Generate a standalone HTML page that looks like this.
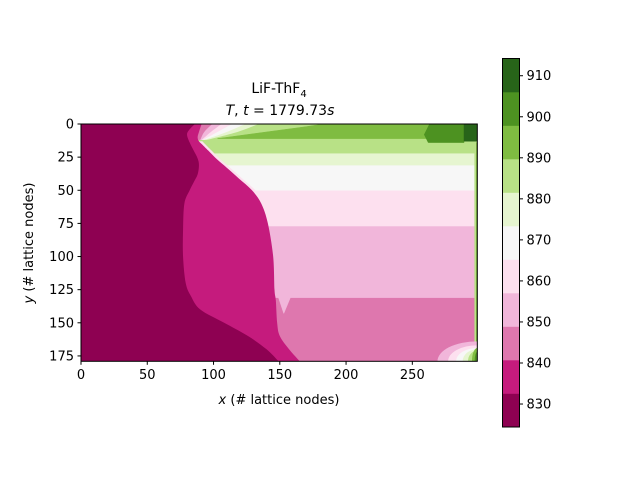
<!DOCTYPE html>
<html><head><meta charset="utf-8"><style>
html,body{margin:0;padding:0;background:#fff}
svg{display:block;font-family:"DejaVu Sans","Liberation Sans",sans-serif}
</style></head><body>
<svg id="chart" width="640" height="480" viewBox="0 0 640 480">
<defs><clipPath id="pc"><rect x="81" y="124" width="396.3" height="237.3"/></clipPath></defs>
<g id="plot" clip-path="url(#pc)"></g>
<rect x="81" y="124" width="396.3" height="237.3" fill="none" stroke="#000" stroke-width="1"/>
<g id="xaxis"></g>
<g id="yaxis"></g>
<text x="279" y="93" text-anchor="middle" font-size="14">LiF-ThF<tspan font-size="10" dy="4">4</tspan></text>
<text x="280" y="115" text-anchor="middle" font-size="14"><tspan font-style="italic">T</tspan>, <tspan font-style="italic">t</tspan> = 1779.73<tspan font-style="italic">s</tspan></text>
<text x="279" y="404" text-anchor="middle" font-size="13"><tspan font-style="italic">x</tspan> (# lattice nodes)</text>
<text transform="translate(33,243) rotate(-90)" text-anchor="middle" font-size="13"><tspan font-style="italic">y</tspan> (# lattice nodes)</text>
<g id="cbar"></g>
</svg>
<script>
// ---- data ----
const levelMin = 824.4;
const levelMax = 914.2;
const bandColors = ["#8e0152","#c51b7d","#de77ae","#f1b6da","#fde0ef","#f7f7f7","#e6f5d0","#b8e186","#7fbc41","#4d9221","#276419"];
const cbTicks = [830,840,850,860,870,880,890,900,910];
const xTicks = [0,50,100,150,200,250];
const yTicks = [0,25,50,75,100,125,150,175];
// horizontal band rows in right region: [band, yEnd]
const rowBands = [3,4,5,6,7];
const rowEnds = [131,77,50,31,22];
// maroon (band 0) right boundary
const maroonY = [0,4,8,14,20,26,31,38,44,50,60,80,100,120,130,140,150,160,170,179];
const maroonX = [86,82,80,82,85,88,89,88,85,82,78,77,77,79,83,90,108,126,140,149];
// magenta (band 1) right boundary
const magY = [0,6,10,13,16,20,27,33,41,50,60,75,100,125,133,150,160,170,179];
const magX = [91,89,88,89,92,96,103,110,119,129,136,141,145,146,147,148,150,157,165];
// top-left transition bands: edges at y=0,6,12
const topBands = [6,5,4,3,2];
const topEdge0 = [134,124,114,106,99];
const topEdge6 = [118,110,103,98,93];
const topEdge12 = [95,93,92,91,90];
// green top patches
const greenPatchBand = [8,9,10];
const greenPatchX = [[183,299,299,103,140,170],[263,289,289,262,259],[289,299,299,289]];
const greenPatchY = [[0,0,11,11,6,2],[0,0,14,14,8],[0,0,13,13]];
// bottom-right corner blob
const blobBand = [3,4,5,6,7,8,9];
const blobRx = [30,22,16,11,7,4,2];
const blobRy = [15,12,10,9,8,10,7];
// pink spike
const spikeX = [149,158,153];
const spikeY = [131,131,143];

// ---- scales ----
const X0=81, XS=1.3253, Y0=124, YS=1.3253;
const sx = v => X0 + v*XS;
const sy = v => Y0 + v*YS;
const NS="http://www.w3.org/2000/svg";
const plot=document.getElementById('plot');
function poly(parent, xs, ys, color, name){
  const p=document.createElementNS(NS,'polygon');
  p.setAttribute('points', xs.map((x,i)=>sx(x)+','+sy(ys[i])).join(' '));
  p.setAttribute('fill', color);
  p.setAttribute('stroke', color);
  p.setAttribute('stroke-width','0.5');
  
  
  parent.appendChild(p);
}
// smooth edge region: left side x=0, right side = catmull-rom through edge points
function edgeRegion(parent, ys, xs, color, name){
  const pts=ys.map((y,i)=>[sx(xs[i]),sy(y)]);
  let d='M'+sx(0)+','+sy(ys[0])+' L'+pts[0][0]+','+pts[0][1];
  for(let i=0;i<pts.length-1;i++){
    const p0=pts[Math.max(0,i-1)],p1=pts[i],p2=pts[i+1],p3=pts[Math.min(pts.length-1,i+2)];
    const c1=[p1[0]+(p2[0]-p0[0])/6,p1[1]+(p2[1]-p0[1])/6];
    const c2=[p2[0]-(p3[0]-p1[0])/6,p2[1]-(p3[1]-p1[1])/6];
    d+=' C'+c1[0]+','+c1[1]+' '+c2[0]+','+c2[1]+' '+p2[0]+','+p2[1];
  }
  d+=' L'+sx(0)+','+sy(ys[ys.length-1])+' Z';
  const p=document.createElementNS(NS,'path');
  p.setAttribute('d',d);
  p.setAttribute('fill',color);
  
  
  parent.appendChild(p);
}
// base
poly(plot,[0,299,299,0],[0,0,179,179],bandColors[2],'band-base');
rowBands.forEach((b,i)=>{
  poly(plot,[0,299,299,0],[0,0,rowEnds[i],rowEnds[i]],bandColors[b],'band-row-'+b);
});
greenPatchBand.forEach((b,i)=>{
  poly(plot,greenPatchX[i],greenPatchY[i],bandColors[b],'green-patch-'+b);
});
poly(plot,[297,299,299,297],[14,14,170,170],bandColors[7],'right-edge-strip');
poly(plot,[298.3,299,299,298.3],[14,14,170,170],bandColors[8],'right-edge-strip-dark');
poly(plot,spikeX,spikeY,bandColors[3],'pink-spike');
blobBand.forEach((b,i)=>{
  const e=document.createElementNS(NS,'ellipse');
  e.setAttribute('cx',sx(299)); e.setAttribute('cy',sy(179));
  e.setAttribute('rx',blobRx[i]*XS); e.setAttribute('ry',blobRy[i]*YS);
  e.setAttribute('fill',bandColors[b]);
  
  
  plot.appendChild(e);
});
topBands.forEach((b,i)=>{
  edgeRegion(plot,[0,6,12],[topEdge0[i],topEdge6[i],topEdge12[i]],bandColors[b],'top-transition-band');
});
// diagonal thin strip
edgeRegion(plot,magY.slice(3,11),magX.slice(3,11).map(v=>v+2.5),bandColors[4],'diagonal-strip');
edgeRegion(plot,magY,magX,bandColors[1],'band-magenta');
edgeRegion(plot,maroonY,maroonX,bandColors[0],'band-maroon');

// ---- axes ----
const xa=document.getElementById('xaxis'), ya=document.getElementById('yaxis');
xTicks.forEach(t=>{
  const l=document.createElementNS(NS,'line');
  l.setAttribute('x1',sx(t));l.setAttribute('x2',sx(t));l.setAttribute('y1',361.3);l.setAttribute('y2',364.8);
  l.setAttribute('stroke','#000');
  
  
  xa.appendChild(l);
  const tx=document.createElementNS(NS,'text');
  tx.setAttribute('x',sx(t));tx.setAttribute('y',379);tx.setAttribute('text-anchor','middle');tx.setAttribute('font-size','13');
  tx.textContent=t;
  
  
  xa.appendChild(tx);
});
yTicks.forEach(t=>{
  const l=document.createElementNS(NS,'line');
  l.setAttribute('x1',77.5);l.setAttribute('x2',81);l.setAttribute('y1',sy(t));l.setAttribute('y2',sy(t));
  l.setAttribute('stroke','#000');
  
  
  ya.appendChild(l);
  const tx=document.createElementNS(NS,'text');
  tx.setAttribute('x',74);tx.setAttribute('y',sy(t)+4.5);tx.setAttribute('text-anchor','end');tx.setAttribute('font-size','13');
  tx.textContent=t;
  
  
  ya.appendChild(tx);
});
// ---- colorbar ----
const cb=document.getElementById('cbar');
const CT=58.5, CB=427, CL=502.5, CW=17;
const cy = v => CB - (v-levelMin)/(levelMax-levelMin)*(CB-CT);
const bw=(levelMax-levelMin)/bandColors.length;
bandColors.forEach((c,i)=>{
  const r=document.createElementNS(NS,'rect');
  const top=cy(levelMin+(i+1)*bw), bot=cy(levelMin+i*bw);
  r.setAttribute('x',CL);r.setAttribute('y',top);r.setAttribute('width',CW);r.setAttribute('height',bot-top+0.3);
  r.setAttribute('fill',c);
  
  
  cb.appendChild(r);
});
const fr=document.createElementNS(NS,'rect');
fr.setAttribute('x',CL);fr.setAttribute('y',CT);fr.setAttribute('width',CW);fr.setAttribute('height',CB-CT);
fr.setAttribute('fill','none');fr.setAttribute('stroke','#000');


cb.appendChild(fr);
cbTicks.forEach(t=>{
  const l=document.createElementNS(NS,'line');
  l.setAttribute('x1',CL+CW);l.setAttribute('x2',CL+CW+3.5);l.setAttribute('y1',cy(t));l.setAttribute('y2',cy(t));
  l.setAttribute('stroke','#000');
  
  
  cb.appendChild(l);
  const tx=document.createElementNS(NS,'text');
  tx.setAttribute('x',CL+CW+7);tx.setAttribute('y',cy(t)+4.5);tx.setAttribute('font-size','13');
  tx.textContent=t;
  
  
  cb.appendChild(tx);
});
</script>
</body></html>
